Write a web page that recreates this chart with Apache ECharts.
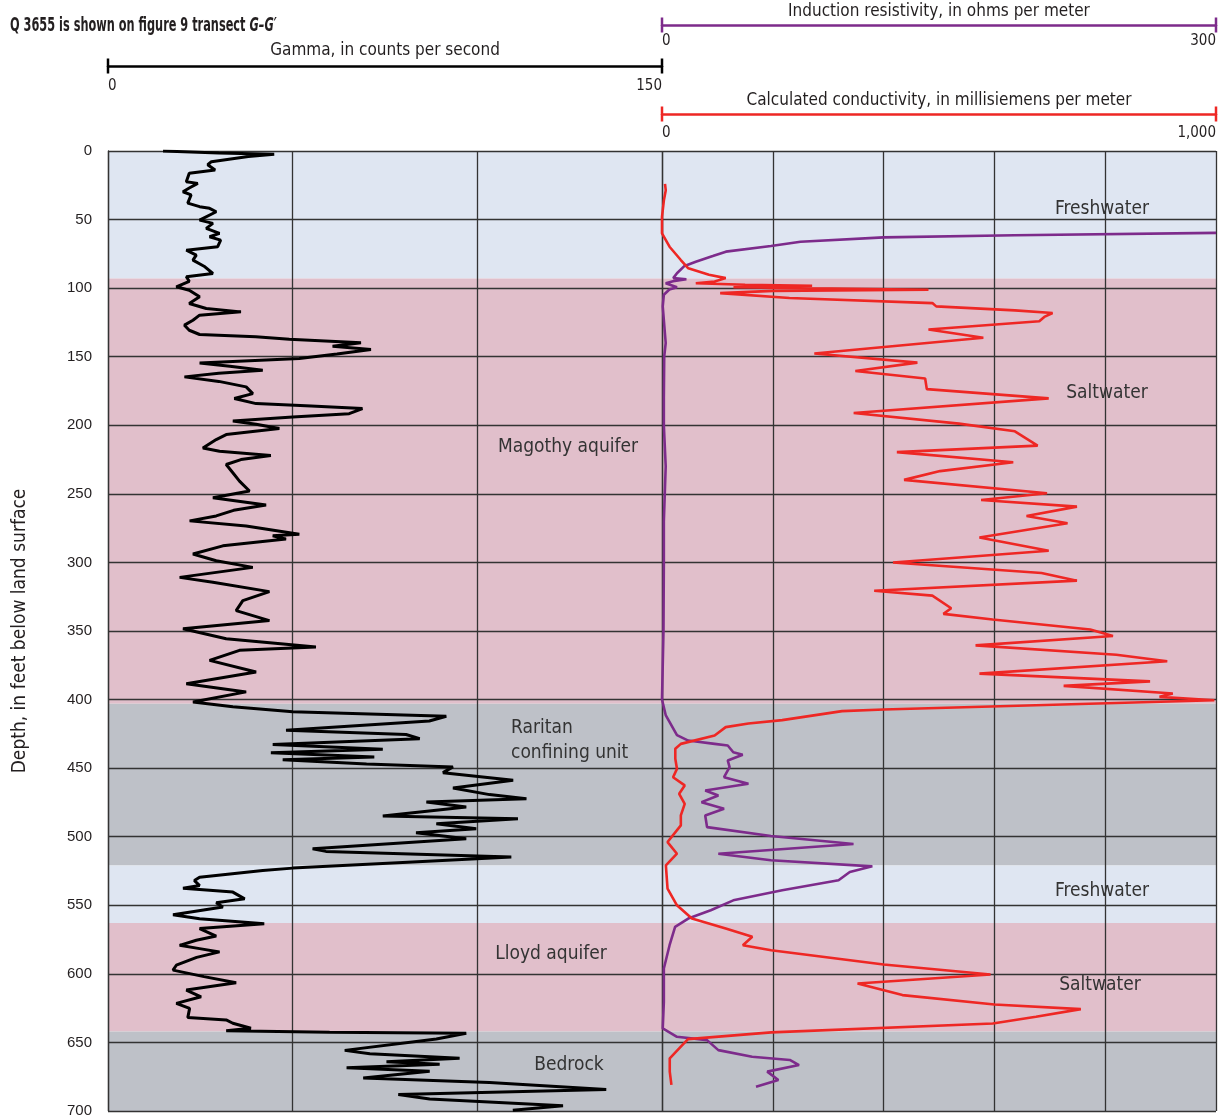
<!DOCTYPE html>
<html>
<head>
<meta charset="utf-8">
<title>Q 3655 geophysical logs</title>
<script src="https://cdn.jsdelivr.net/npm/echarts@6/dist/echarts.min.js"></script>
<style>
  html, body { margin: 0; padding: 0; background: #fff; }
  #chart { width: 1228px; height: 1118px; }
</style>
</head>
<body>
<div id="chart"></div>
<script>
// hydrogeologic units, depth in feet below land surface
const unitTop = [0, 93, 403, 521, 563, 642];
const unitBottom = [93, 403, 521, 563, 642, 700];
const unitKind = ['fresh', 'salt', 'confining', 'fresh', 'salt', 'confining'];

// natural gamma log
const gammaDepth = [0, 1.5, 2.4, 4, 7.8, 10, 13.9, 16.3, 22.4, 23.6, 27, 29.7, 32, 38, 40.6, 41.8, 44.3, 50.4, 52.8, 56.4,
  60.1, 62.5, 65, 69.8, 72.3, 75.9, 79.6, 84, 89.3, 91.7, 95, 99, 101.5, 106.3, 111.2, 114.8, 117.3, 119.7, 123.4, 127,
  130.7, 133.8, 135.5, 137.2, 139.9, 142.3, 144.8, 148, 151.3, 154.5, 157, 159.8, 162, 164.7, 168, 172, 176.9, 180.5, 184.2, 186,
  187.8, 191.5, 194, 196.8, 199.3, 202.4, 206.8, 210.4, 216.5, 218.9, 222, 225, 228.6, 234.6, 240.7, 247.9, 252.8, 258.1, 262, 266.1,
  269.7, 273.4, 279.4, 280.6, 283, 287.9, 293.9, 298.8, 303.6, 310.9, 314.5, 321.3, 327.8, 335.1, 342.4, 348.4, 355.7, 361.7, 364.1, 371.4,
  379.9, 388.4, 394.4, 401.7, 405.3, 408.9, 412.2, 415.6, 422.4, 425.5, 428.5, 432.8, 436.3, 438.7, 441.8, 443.8, 447, 449.1, 453.3, 458.9,
  464.5, 469.3, 472.3, 474.7, 478.3, 484.9, 486.9, 490.5, 494.2, 497.1, 501.5, 508.8, 510.7, 514.8, 518.5, 522.9, 524.7, 529.5, 532, 535.6,
  537.5, 540.4, 545.3, 548.2, 551.3, 556.9, 559.8, 563.4, 567, 572.4, 575.5, 579.2, 581.6, 584, 588, 593.7, 597.3, 602, 606.5, 611.8,
  616.7, 621.5, 625.2, 631.9, 633.6, 636, 639.7, 641.4, 642.5, 643.3, 647.5, 655.8, 658.3, 661.6, 664.1, 665.9, 668.4, 671, 676, 679.3,
  684.3, 687.9, 691.2, 696.2, 699.5];
const gammaCps = [14.9, 30, 45, 38, 28, 27, 29, 22, 21.2, 24.3, 22, 20.3, 22.5, 21.6, 24.8, 27.5, 29.3, 24.8, 28.4, 26.6,
  30.2, 27.5, 30.5, 29.7, 21.2, 23.9, 23, 26, 28.4, 21.2, 22, 18.5, 22, 24.8, 22, 26.6, 36, 24.8, 23, 20.7,
  22, 24.8, 40, 49.1, 68.5, 60.8, 71.2, 62, 51.8, 24.8, 33, 41.9, 30, 20.7, 30, 37.4, 39.2, 34.2, 40.1, 55,
  68.9, 65.3, 50, 33.8, 40.1, 46.4, 32, 29.3, 25.7, 30.2, 44.1, 36, 32, 33.8, 35.6, 38.3, 28.4, 42.8, 34, 29.3,
  22.1, 37.4, 51.8, 44.6, 48.2, 31.1, 23, 29.3, 39.2, 19.4, 28.4, 43.7, 36.5, 34.7, 43.7, 20.3, 32, 56.3, 35.6, 27.5,
  40.1, 21.2, 37.4, 23, 33.8, 50, 91.6, 87, 48.2, 80.7, 84.4, 44.6, 74.4, 44.1, 72.1, 47.3, 70, 93.4, 90.7, 109.7,
  93.4, 103.3, 113.3, 86.2, 97, 74.4, 111, 88.9, 99.7, 83.4, 97, 55.4, 59, 109.2, 82.5, 50, 41.9, 24.8, 23.4, 24.8,
  20.3, 33.8, 37, 29.3, 31.1, 17.6, 24.8, 42.3, 24.8, 29.3, 23.9, 19.4, 24.8, 30.2, 24, 18.5, 17.6, 26, 34.7, 21.2,
  25.2, 18.5, 22.1, 21.6, 32, 33.8, 38.7, 32, 60, 97, 88.9, 64.1, 70.9, 95.2, 75.4, 89.8, 64.6, 87.1, 69.1, 103.3,
  134.9, 78.6, 87.1, 123.2, 109.6];

// calculated conductivity log
const condDepth = [23.9, 28.7, 36, 48, 60, 69.8, 79.5, 85.5, 90.3, 92.7, 95.2, 96.4, 97.5, 98.3, 99.3, 101.2, 102, 103.6, 107.2, 110.9,
  113.3, 116.2, 118.1, 121, 124.1, 130.2, 136.2, 147.6, 154.3, 160.4, 165.9, 173.6, 180.4, 191, 198.8, 204.4, 214.8, 219.6, 226.9, 233.4,
  239.8, 249.6, 254.5, 259.3, 266.1, 271.4, 281.8, 291.5, 300, 307.7, 313.3, 320.6, 324.2, 333.4, 337.5, 341.6, 348.9, 353.7, 360.5, 367.3,
  372.1, 381.1, 386.7, 390, 395.6, 398, 400.5, 407.2, 408.4, 415, 417.4, 420.1, 426.2, 432.3, 435.9, 443.2, 450.5, 456.6, 462.6, 468.7,
  476, 484.5, 491.7, 503.9, 512.4, 520.9, 537.9, 550, 559.7, 567, 573, 579.1, 582.8, 593.2, 600.5, 607, 615.5, 622.3, 625.7, 631.3,
  636.2, 642.7, 647.6, 653.1, 661.6, 671.3, 681];
const condMsm = [5.4, 6.8, 3.4, 0, 0, 13.6, 34, 47.5, 84.8, 115, 95, 61, 150, 271, 129, 481, 200, 105, 230, 488,
  495, 637, 705, 690, 681, 481, 580, 275, 461, 349, 475, 478, 698, 346, 536, 637, 678, 424, 634, 502,
  437, 695, 576, 749, 658, 732, 573, 698, 417, 685, 749, 383, 488, 522, 508, 597, 773, 814, 566, 820,
  912, 573, 881, 725, 922, 898, 997, 400, 325, 217, 156, 115, 95, 34, 24, 24, 27, 20, 41, 31,
  41, 34, 34, 10, 27, 7, 10, 27, 54, 115, 163, 146, 197, 400, 593, 353, 434, 600, 756, 675,
  597, 197, 47, 34, 14, 14, 17];

// induction resistivity log
const resDepth = [59.7, 61.4, 63, 66.2, 69.3, 73.4, 76.6, 80.7, 83.8, 89.1, 92.7, 93.5, 95, 96.4, 97.6, 99.3, 101, 104.8, 113.3, 140,
  150, 180, 200, 230, 250, 270, 300, 350, 400, 411.3, 425.9, 429.9, 432.3, 433.5, 438.4, 440.3, 444.4, 449.3, 456.6, 461.4,
  466.3, 469.9, 474.8, 479.6, 484.5, 493, 499.5, 505.3, 512.4, 517.2, 521.6, 525.7, 531.8, 539.1, 546.4, 553.6, 559.7, 565.8, 579.1, 596.1,
  620.4, 639.8, 645.9, 648.3, 655.6, 660.4, 662.8, 666.5, 671.3, 677.4, 682.3];
const resOhm = [300, 191, 120, 75, 59, 34.6, 27.5, 18.3, 12.2, 8.1, 6.1, 13.2, 6, 2, 1, 8.1, 4, 1, 0.4, 2,
  1.2, 1, 1, 2, 1.5, 1, 1, 0.8, 0, 2, 8.1, 14.2, 28.5, 35.6, 38.6, 43.7, 35.6, 36.6, 33.6, 46.8,
  23.4, 30.5, 21.4, 33.6, 23.4, 24.4, 59, 103.7, 30.5, 59, 113.9, 101.7, 95.6, 65.1, 38.6, 26.4, 14.2, 7.1, 4.1, 1,
  1, 0.4, 8.1, 24.4, 30.5, 48.8, 69.2, 74.2, 57, 63, 50.9];

const FONT = '"Liberation Sans Narrow", "DejaVu Sans Condensed", Roboto, sans-serif';
const TEXT = '#231f20';
const GRIDLINE = '#333';
const unitColor = { fresh: '#dfe6f2', salt: '#e1bfcb', confining: '#bec1c8' };

// unit labels (pixel positions)
const notes = [
  { text: 'Freshwater', x: 1102, y: 209 },
  { text: 'Saltwater', x: 1107, y: 393 },
  { text: 'Magothy aquifer', x: 568, y: 447 },
  { text: 'Raritan\nconfining unit', x: 511, y: 741, align: 'left' },
  { text: 'Freshwater', x: 1102, y: 891 },
  { text: 'Lloyd aquifer', x: 551, y: 954 },
  { text: 'Saltwater', x: 1100, y: 985 },
  { text: 'Bedrock', x: 569, y: 1065 }
];

function pairs(xs, ys) {
  return ys.map((d, i) => [xs[i], d]);
}

function bandSeries(gridIdx) {
  return {
    type: 'custom',
    xAxisIndex: gridIdx === 0 ? 0 : 1,
    yAxisIndex: gridIdx,
    z: 0,
    silent: true,
    data: unitTop.map((t, i) => [t, unitBottom[i]]),
    encode: { y: [0, 1] },
    renderItem: (params, api) => {
      const cs = params.coordSys;
      const y0 = api.coord([0, api.value(0)])[1];
      const y1 = api.coord([0, api.value(1)])[1];
      return {
        type: 'rect',
        shape: { x: cs.x, y: y0, width: cs.width, height: y1 - y0 },
        style: { fill: unitColor[unitKind[params.dataIndex]] }
      };
    }
  };
}

function depthAxis(gridIdx) {
  return {
    gridIndex: gridIdx,
    type: 'value',
    inverse: true,
    min: 0,
    max: 700,
    interval: 50,
    z: 1,
    name: gridIdx === 0 ? 'Depth, in feet below land surface' : '',
    nameLocation: 'middle',
    nameGap: 78,
    nameTextStyle: { fontFamily: FONT, fontSize: 19, color: TEXT },
    axisLine: { show: gridIdx === 0, onZero: false, lineStyle: { color: GRIDLINE, width: 1.3 } },
    axisTick: { show: false },
    axisLabel: { show: gridIdx === 0, margin: 16, fontFamily: '"Liberation Sans", Arial, sans-serif', fontSize: 15, color: TEXT },
    splitLine: { show: true, lineStyle: { color: GRIDLINE, width: 1.3 } }
  };
}

function scaleAxis(o) {
  return {
    gridIndex: o.grid,
    type: 'value',
    position: 'top',
    offset: o.offset,
    min: 0,
    max: o.max,
    interval: o.interval,
    z: 1,
    name: o.name,
    nameLocation: 'middle',
    nameGap: o.nameGap,
    nameTextStyle: { fontFamily: FONT, fontSize: 17, color: TEXT },
    axisLine: {
      show: true,
      onZero: false,
      symbol: ['rect', 'rect'],
      symbolSize: [15, 2.5],
      lineStyle: { color: o.color, width: 2.5 }
    },
    axisTick: { show: false },
    axisLabel: {
      inside: true,
      margin: o.labelGap,
      fontFamily: FONT,
      fontSize: 15,
      color: TEXT,
      alignMinLabel: 'left',
      alignMaxLabel: 'right',
      formatter: v => (v === 0 || v === o.max) ? v.toLocaleString('en-US') : ''
    },
    splitLine: { show: o.split, lineStyle: { color: GRIDLINE, width: 1.3 } }
  };
}

const chart = echarts.init(document.getElementById('chart'));

chart.setOption({
  animation: false,
  backgroundColor: '#fff',
  grid: [
    { left: 108, top: 151, width: 554, height: 960, outerBoundsMode: 'none' },
    { left: 662, top: 151, width: 554, height: 960, outerBoundsMode: 'none' }
  ],
  xAxis: [
    scaleAxis({ grid: 0, offset: 85, max: 150, interval: 50, name: 'Gamma, in counts per second',
      nameGap: 7, labelGap: 13, color: '#000', split: true }),
    scaleAxis({ grid: 1, offset: 37, max: 1000, interval: 200, name: 'Calculated conductivity, in millisiemens per meter',
      nameGap: 4, labelGap: 12, color: '#ee2724', split: true }),
    scaleAxis({ grid: 1, offset: 126, max: 300, interval: 300, name: 'Induction resistivity, in ohms per meter',
      nameGap: 2, labelGap: 9, color: '#7d2b8b', split: false })
  ],
  yAxis: [depthAxis(0), depthAxis(1)],
  graphic: [
    {
      // title, squeezed to the width of the condensed original
      type: 'text',
      x: 10,
      y: 26,
      scaleX: 0.63,
      silent: true,
      style: {
        text: '{a|Q 3655 is shown on figure 9 transect }{b|G–G′}',
        verticalAlign: 'middle',
        rich: {
          a: { fontFamily: FONT, fontSize: 20, fontWeight: 'bold', fill: TEXT },
          b: { fontFamily: FONT, fontSize: 20, fontWeight: 'bold', fontStyle: 'italic', fill: TEXT }
        }
      }
    }
  ].concat(notes.map(n => ({
    type: 'text',
    x: n.x,
    y: n.y,
    silent: true,
    z: 10,
    style: {
      text: n.text,
      align: n.align || 'center',
      verticalAlign: 'middle',
      fontFamily: FONT,
      fontSize: 19,
      lineHeight: 25,
      fill: '#333'
    }
  }))),
  series: [
    bandSeries(0),
    bandSeries(1),
    {
      name: 'Gamma',
      type: 'line',
      xAxisIndex: 0,
      yAxisIndex: 0,
      showSymbol: false,
      z: 3,
      lineStyle: { color: '#000', width: 3 },
      data: pairs(gammaCps, gammaDepth)
    },
    {
      name: 'Conductivity',
      type: 'line',
      xAxisIndex: 1,
      yAxisIndex: 1,
      showSymbol: false,
      z: 4,
      lineStyle: { color: '#ee2724', width: 2.6 },
      data: pairs(condMsm, condDepth)
    },
    {
      name: 'Resistivity',
      type: 'line',
      xAxisIndex: 2,
      yAxisIndex: 1,
      showSymbol: false,
      clip: false,
      z: 3,
      lineStyle: { color: '#7d2b8b', width: 2.6 },
      data: pairs(resOhm, resDepth)
    }
  ]
});
</script>
</body>
</html>
